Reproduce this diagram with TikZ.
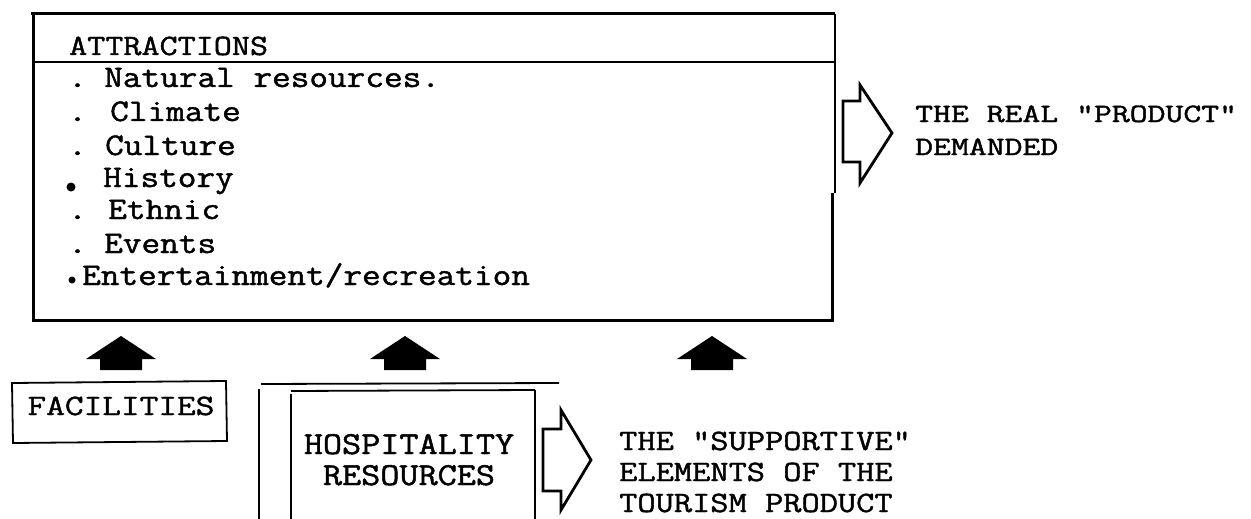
\documentclass[tikz,border=0pt]{standalone}
\usepackage{fontspec}
\usepackage{graphicx}
\newfontfamily\cmono{Latin Modern Mono}[FakeBold=1.3]
\newcommand\mtext[3]{{\cmono\fontsize{#1}{#1}\selectfont\scalebox{#2}[1]{#3}}}
\begin{document}
\begin{tikzpicture}[x=1pt,y=-1pt,
  frame/.style={line width=3pt},
  divider/.style={line width=2pt},
  handline/.style={line width=1.8pt},
  txt/.style={inner sep=0pt, anchor=base west},
  ctxt/.style={inner sep=0pt, anchor=base},
  dotbullet/.style={circle, fill=black, inner sep=0pt},
  hollowarrow/.style={line width=2.8pt, line join=miter, miter limit=10},
  uparrow/.pic={\fill[black] (0,0) -- (35,23) -- (21,23) -- (21,34) -- (-21,34) -- (-21,23) -- (-35,23) -- cycle;}]
\useasboundingbox (0,0) rectangle (1251,519);
\fill[white] (0,0) rectangle (1251,519);

% ---------- main ATTRACTIONS box ----------
\draw[frame] (31,14) -- (835,14);
\draw[frame] (33,14) -- (33,320) -- (832,320) -- (832,193);
\draw[divider] (835,14) -- (835,193);
\draw[divider] (33,62) -- (835,62);

\node[txt] (attr) at (69,55) {\mtext{29.5}{1.19}{ATTRACTIONS}};

\node[txt] (d1) at (68,87)  {\mtext{31.5}{1.15}{.}};
\node[txt] (i1) at (104,87) {\mtext{31.5}{1.15}{Natural resources.}};
\node[txt] (d2) at (68,121) {\mtext{31.5}{1.15}{.}};
\node[txt] (i2) at (110,121) {\mtext{31.5}{1.15}{Climate}};
\node[txt] (d3) at (68,155) {\mtext{31.5}{1.15}{.}};
\node[txt] (i3) at (105,155) {\mtext{31.5}{1.15}{Culture}};
\node[dotbullet, minimum size=9pt] (b4) at (71,187) {};
\node[txt] (i4) at (103,187) {\mtext{31.5}{1.15}{History}};
\node[txt] (d5) at (68,219) {\mtext{31.5}{1.15}{.}};
\node[txt] (i5) at (108,219) {\mtext{31.5}{1.15}{Ethnic}};
\node[txt] (d6) at (68,253) {\mtext{31.5}{1.15}{.}};
\node[txt] (i6) at (104,253) {\mtext{31.5}{1.15}{Events}};
\node[dotbullet, minimum size=7pt] (b7) at (72,280) {};
\node[txt] (i7) at (82,285) {\mtext{31.5}{1.15}{Entertainment/recreation}};

% ---------- real product arrow and text ----------
\draw[hollowarrow] (843,101) -- (860,101) -- (860,85) -- (892,133) -- (860,183) -- (860,162) -- (843,162) -- cycle;
\node[txt] (real1) at (915,122) {\mtext{26.5}{1.31}{THE REAL “PRODUCT”}};
\node[txt] (real2) at (915,155) {\mtext{26.5}{1.31}{DEMANDED}};

% ---------- up arrows ----------
\pic (up1) at (121,336) {uparrow};
\pic (up2) at (405,336) {uparrow};
\pic (up3) at (712,336) {uparrow};

% ---------- FACILITIES ----------
\draw[handline] (12,383) -- (226,381) -- (227,441) -- (13,443) -- cycle;
\node[ctxt] (fac) at (121,415) {\mtext{29.5}{1.23}{FACILITIES}};

% ---------- HOSPITALITY ----------
\draw[handline] (261,384) -- (559,383);
\draw[handline] (259,389) -- (259,519);
\draw[handline] (291,391) -- (535,390);
\draw[handline] (291,394) -- (291,519);
\draw[handline] (535,390) -- (535,519);
\node[ctxt] (hosp1) at (409,454) {\mtext{32}{1.16}{HOSPITALITY}};
\node[ctxt] (hosp2) at (409,485) {\mtext{32}{1.16}{RESOURCES}};

% ---------- supportive arrow and text ----------
\draw[hollowarrow] (543,429) -- (561,429) -- (561,410) -- (591,460) -- (561,510) -- (561,491) -- (543,491) -- cycle;
\node[txt] (sup1) at (619,450) {\mtext{29.5}{1.2}{THE "SUPPORTIVE"}};
\node[txt] (sup2) at (619,481) {\mtext{29.5}{1.2}{ELEMENTS OF THE}};
\node[txt] (sup3) at (619,512) {\mtext{29.5}{1.2}{TOURISM PRODUCT}};
\end{tikzpicture}
\end{document}
